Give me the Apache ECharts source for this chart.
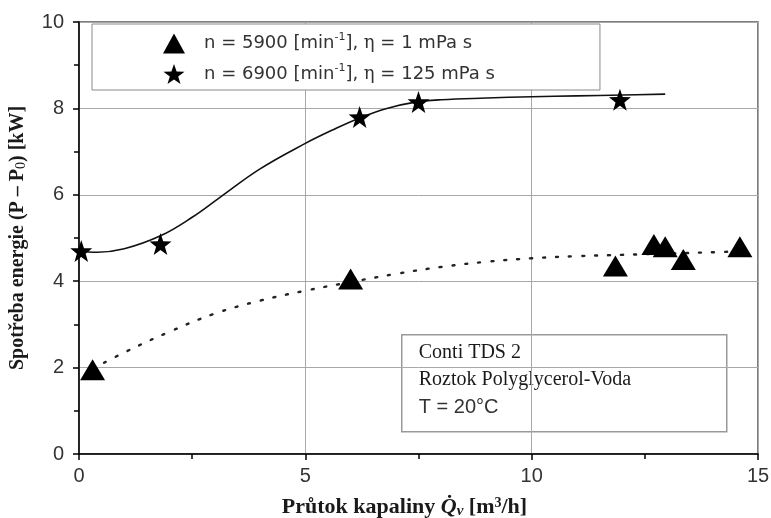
<!DOCTYPE html>
<html>
<head>
<meta charset="utf-8">
<script src="https://cdn.jsdelivr.net/npm/echarts@6/dist/echarts.min.js"></script>
<style>html,body{margin:0;padding:0;background:#fff}#c{width:771px;height:518px}</style>
</head>
<body>
<div id="c"></div>
<script>
// Measured points, series 1 (triangles): n = 5900, eta = 1 mPa s
const triX = [0.3, 6.0, 11.85, 12.7, 12.95, 13.35, 14.6];
const triY = [1.95, 4.05, 4.35, 4.85, 4.8, 4.5, 4.8];
// Measured points, series 2 (stars): n = 6900, eta = 125 mPa s
const starX = [0.05, 1.8, 6.2, 7.5, 11.95];
const starY = [4.7, 4.86, 7.8, 8.15, 8.2];
// Fitted trend curve for triangles (dotted)
const triFitX = [0.3, 1, 2, 3, 4, 5, 6, 7, 8, 9, 10, 11, 12, 13, 14, 14.6];
const triFitY = [1.97, 2.35, 2.83, 3.25, 3.55, 3.78, 3.98, 4.17, 4.33, 4.45, 4.53, 4.58, 4.61, 4.64, 4.67, 4.69];
// Fitted trend curve for stars (solid)
const starFitX = [0, 0.4, 1, 1.8, 2.5, 3.1, 4, 5, 5.6, 6.2, 6.8, 7.4, 8, 9, 10, 11, 12, 12.95];
const starFitY = [4.7, 4.67, 4.75, 5.05, 5.48, 5.93, 6.6, 7.19, 7.5, 7.78, 8.0, 8.14, 8.2, 8.24, 8.27, 8.29, 8.31, 8.33];
// Axis ticks
const xTicks = {min: 0, max: 15, interval: 5};
const yTicks = {min: 0, max: 10, interval: 2};

const zip = (xs, ys) => xs.map((x, i) => [x, ys[i]]);
const starPath = 'path://M0,-10 L2.35,-3.24 L9.51,-3.09 L3.8,1.24 L5.88,8.09 L0,4 L-5.88,8.09 L-3.8,1.24 L-9.51,-3.09 L-2.35,-3.24 Z';
const triName = 'tri';
const starName = 'star';

const chart = echarts.init(document.getElementById('c'), null, {renderer: 'canvas'});
const labelFont = {fontFamily: 'Liberation Sans, Arial, sans-serif', fontSize: 20, color: '#333'};
const serifBold = {fontFamily: 'Liberation Serif, Times New Roman, serif', fontWeight: 'bold', fontSize: 22, color: '#1a1a1a'};

chart.setOption({
  animation: false,
  backgroundColor: '#fff',
  grid: {left: 79, right: 13, top: 22, bottom: 64, show: true, borderColor: '#555', borderWidth: 1.5,
         backgroundColor: 'transparent', containLabel: false, outerBoundsMode: 'none'},
  xAxis: {
    type: 'value', min: xTicks.min, max: xTicks.max, interval: xTicks.interval,
    axisLine: {lineStyle: {color: '#000', width: 1.5}},
    axisTick: {show: true, length: 6, lineStyle: {color: '#000', width: 1.5}},
    minorTick: {show: true, splitNumber: 2, length: 5, lineStyle: {color: '#000', width: 1.5}},
    splitLine: {show: true, lineStyle: {color: '#a8a8a8', width: 1}},
    axisLabel: Object.assign({margin: 12}, labelFont),
    name: '{b|Průtok kapaliny }{q|Q̇}{v|v}{b| [m}{sup|3}{b|/h]}',
    nameLocation: 'middle', nameGap: 42,
    nameTextStyle: {
      padding: [0, 28, 0, 0],
      rich: {
        b: serifBold,
        q: Object.assign({}, serifBold, {fontStyle: 'italic'}),
        v: Object.assign({}, serifBold, {fontStyle: 'italic', fontSize: 15, padding: [7, 0, 0, 0]}),
        sup: Object.assign({}, serifBold, {fontSize: 14, padding: [0, 0, 9, 0]})
      }
    }
  },
  yAxis: {
    type: 'value', min: yTicks.min, max: yTicks.max, interval: yTicks.interval,
    axisLine: {show: true, lineStyle: {color: '#000', width: 1.5}},
    axisTick: {show: true, length: 6, lineStyle: {color: '#000', width: 1.5}},
    minorTick: {show: true, splitNumber: 2, length: 5, lineStyle: {color: '#000', width: 1.5}},
    splitLine: {show: true, lineStyle: {color: '#a8a8a8', width: 1}},
    axisLabel: Object.assign({margin: 15}, labelFont),
    name: '{b|Spotřeba energie (P – P}{s|0}{b|) [kW]}',
    nameLocation: 'middle', nameGap: 51, nameRotate: 90,
    nameTextStyle: {
      rich: {
        b: Object.assign({}, serifBold, {fontSize: 20}),
        s: Object.assign({}, serifBold, {fontSize: 14, fontWeight: 'normal', padding: [7, 0, 0, 0]})
      }
    }
  },
  legend: {
    orient: 'vertical', left: 92, top: 24,
    data: [{name: triName, icon: 'triangle'}, {name: starName, icon: starPath}],
    itemWidth: 22, itemHeight: 20, itemGap: 9,
    padding: [8, 105, 6, 71],
    backgroundColor: '#fff', borderColor: '#8a8a8a', borderWidth: 1, borderRadius: 0,
    selectedMode: false,
    formatter: function (name) {
      if (name === triName) return '{t|n = 5900 [min}{sup|-1}{t|], }{e|η}{t| = 1 mPa s}';
      return '{t|n = 6900 [min}{sup|-1}{t|], }{e|η}{t| = 125 mPa s}';
    },
    textStyle: {
      padding: [0, 0, 0, 14],
      rich: {
        t: {fontFamily: 'DejaVu Sans, sans-serif', fontSize: 18, color: '#333'},
        e: {fontFamily: 'DejaVu Serif, serif', fontSize: 18, color: '#333'},
        sup: {fontFamily: 'DejaVu Sans, sans-serif', fontSize: 11, color: '#333', padding: [0, 0, 12, 0]}
      }
    }
  },
  series: [
    {
      type: 'line', data: zip(starFitX, starFitY), smooth: 0.4, showSymbol: false, silent: true,
      lineStyle: {color: '#111', width: 1.6}, z: 2
    },
    {
      type: 'line', data: zip(triFitX, triFitY), smooth: 0.4, showSymbol: false, silent: true,
      lineStyle: {color: '#222', width: 2.4, type: [2, 11], cap: 'round'}, z: 2
    },
    {
      name: triName, type: 'scatter', data: zip(triX, triY), symbol: 'triangle', symbolSize: [25, 21],
      itemStyle: {color: '#000', opacity: 1}, z: 3, clip: false
    },
    {
      name: starName, type: 'scatter', data: zip(starX, starY), symbol: starPath, symbolSize: 22,
      itemStyle: {color: '#000', opacity: 1}, z: 3, clip: false
    }
  ],
  graphic: [
    {
      type: 'group', left: 401, top: 334, z: 10,
      children: [
        {type: 'rect', shape: {x: 0, y: 0, width: 325, height: 97}, style: {fill: '#fff', stroke: '#999', lineWidth: 1.5}},
        {type: 'text', x: 17, y: 8, style: {text: 'Conti TDS 2', font: '20px "Liberation Serif", serif', fill: '#1a1a1a'}},
        {type: 'text', x: 17, y: 35, style: {text: 'Roztok Polyglycerol-Voda', font: '20px "Liberation Serif", serif', fill: '#1a1a1a'}},
        {type: 'text', x: 17, y: 63, style: {text: 'T = 20°C', font: '20px "Liberation Sans", Arial, sans-serif', fill: '#333'}}
      ]
    }
  ]
});
</script>
</body>
</html>
